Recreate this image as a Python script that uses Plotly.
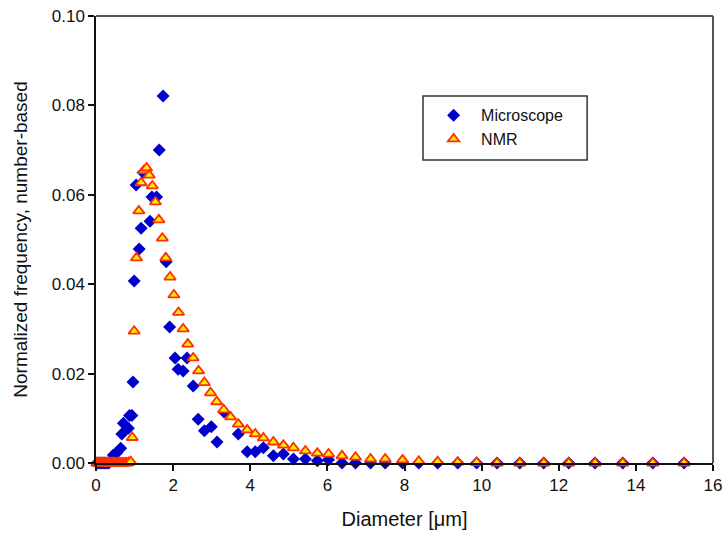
import plotly.graph_objects as go

# Microscope (blue diamonds)
micro_x = [0.03, 0.08, 0.13, 0.18, 0.23, 0.28, 0.33, 0.38, 0.45, 0.54, 0.64, 0.67, 0.71, 0.84, 0.87, 0.93,
           0.96, 0.99, 1.04, 1.12, 1.17, 1.22, 1.40, 1.45, 1.57, 1.64, 1.74, 1.82, 1.91, 2.05, 2.13, 2.26,
           2.36, 2.52, 2.65, 2.81, 2.99, 3.14, 3.32, 3.69, 3.92, 4.13, 4.34, 4.60, 4.86, 5.12, 5.43, 5.74,
           6.03, 6.38, 6.73, 7.12, 7.50, 7.95, 8.37, 8.86, 9.38, 9.87, 10.40, 10.99, 11.61, 12.26, 12.94,
           13.66, 14.44, 15.25]
micro_y = [0.0, 0.0, 0.0, 0.0, 0.0, 0.0, 0.0, 0.0005, 0.0018, 0.0023, 0.0033, 0.0065, 0.0089, 0.0078, 0.0106, 0.0106,
           0.0181, 0.0407, 0.0622, 0.0479, 0.0525, 0.0650, 0.0541, 0.0595, 0.0595, 0.0700, 0.0821, 0.0450, 0.0304, 0.0235, 0.0210, 0.0206,
           0.0235, 0.0172, 0.0098, 0.0072, 0.0081, 0.0047, 0.0114, 0.0065, 0.0025, 0.0025, 0.0034, 0.0016, 0.0020, 0.0009, 0.0009, 0.0005,
           0.0007, 0.0, 0.0, 0.0, 0.0, 0.0, 0.0, 0.0, 0.0, 0.0, 0.0, 0.0, 0.0, 0.0, 0.0,
           0.0, 0.0, 0.0]

# NMR (yellow/red triangles)
nmr_x = [0.02, 0.05, 0.08, 0.11, 0.14, 0.17, 0.20, 0.23, 0.26, 0.29, 0.32, 0.35, 0.37, 0.39, 0.42, 0.44, 0.46,
         0.49, 0.52, 0.55, 0.58, 0.61, 0.64, 0.68, 0.72, 0.76, 0.80, 0.85, 0.90, 0.94, 0.99, 1.05, 1.11, 1.17,
         1.24, 1.31, 1.38, 1.46, 1.54, 1.63, 1.72, 1.81, 1.92, 2.02, 2.14, 2.26, 2.38, 2.52, 2.66, 2.81, 2.97,
         3.13, 3.31, 3.49, 3.69, 3.92, 4.13, 4.34, 4.60, 4.86, 5.12, 5.43, 5.74, 6.03, 6.38, 6.73, 7.12, 7.50,
         7.95, 8.37, 8.86, 9.38, 9.87, 10.40, 10.99, 11.61, 12.26, 12.94, 13.66, 14.44, 15.25]
nmr_y = [0.0, 0.0, 0.0, 0.0, 0.0, 0.0, 0.0, 0.0, 0.0, 0.0, 0.0, 0.0, 0.0, 0.0, 0.0, 0.0, 0.0,
         0.0, 0.0, 0.0, 0.0, 0.0, 0.0, 0.0, 0.0, 0.0, 0.0, 0.0001, 0.0003, 0.0057, 0.0295, 0.0459, 0.0564, 0.0627,
         0.0654, 0.0660, 0.0644, 0.0620, 0.0584, 0.0544, 0.0503, 0.0459, 0.0416, 0.0376, 0.0337, 0.0300, 0.0266, 0.0235, 0.0206, 0.0180, 0.0157,
         0.0137, 0.0119, 0.0103, 0.0087, 0.0074, 0.0065, 0.0056, 0.0047, 0.0040, 0.0034, 0.0027, 0.0022, 0.0020, 0.0016, 0.0013, 0.0009, 0.0009,
         0.0007, 0.0004, 0.0003, 0.0002, 0.0001, 0.0, 0.0, 0.0, 0.0, 0.0, 0.0, 0.0, 0.0]

x_ticks = [0, 2, 4, 6, 8, 10, 12, 14, 16]
y_ticks = [0.00, 0.02, 0.04, 0.06, 0.08, 0.10]

FONT = "Liberation Sans, Arial, sans-serif"

fig = go.Figure()
fig.add_trace(go.Scatter(
    x=micro_x, y=micro_y, mode="markers", name="Microscope",
    marker=dict(symbol="diamond", size=10, color="#0000CC", line=dict(width=0)),
    cliponaxis=False,
))
fig.add_trace(go.Scatter(
    x=nmr_x, y=nmr_y, mode="markers", name="NMR",
    marker=dict(symbol="triangle-up", size=10, color="#FFEE00", line=dict(width=1.8, color="#FF3000")),
    cliponaxis=False,
))

axis_common = dict(
    showgrid=False, zeroline=False, showline=True, linecolor="#111", linewidth=1.5,
    ticks="outside", ticklen=6, tickwidth=1.5, tickcolor="#111", automargin=False,
    ticklabeloverflow="allow",
    tickfont=dict(family=FONT, size=17, color="#111"),
)
fig.update_xaxes(range=[0, 16], tickvals=x_ticks, ticktext=[str(v) for v in x_ticks],
                 title=dict(text="Diameter [μm]", font=dict(family=FONT, size=20, color="#111"), standoff=18),
                 **axis_common)
fig.update_yaxes(range=[0, 0.10], tickvals=y_ticks, ticktext=["%.2f" % v for v in y_ticks],
                 title=dict(text="Normalized frequency, number-based", font=dict(family=FONT, size=19, color="#111"), standoff=19),
                 **axis_common)

# top/right frame
fig.add_shape(type="line", xref="paper", yref="paper", x0=0, x1=1, y0=1, y1=1, line=dict(color="#555", width=2))
fig.add_shape(type="line", xref="paper", yref="paper", x0=1, x1=1, y0=0, y1=1, line=dict(color="#555", width=2))
# legend box
fig.add_shape(type="rect", xref="paper", yref="paper", x0=0.530, x1=0.796, y0=0.678, y1=0.821,
              line=dict(color="#333", width=1.5), fillcolor="rgba(0,0,0,0)")

fig.update_layout(
    width=725, height=542,
    margin=dict(l=96, r=12, t=16, b=79),
    paper_bgcolor="white", plot_bgcolor="white",
    font=dict(family=FONT, color="#111"),
    showlegend=True,
    legend=dict(x=0.535, y=0.816, xanchor="left", yanchor="top", bgcolor="rgba(0,0,0,0)",
                borderwidth=0, font=dict(family=FONT, size=16, color="#111"),
                itemwidth=45, tracegroupgap=0),
)

# remove the page's default body margin so the figure sits at the window's top-left corner
fig.write_html(
    "out.html",
    config={"displayModeBar": False},
    post_script="document.body.style.margin='0';document.documentElement.style.overflow='hidden';",
)
